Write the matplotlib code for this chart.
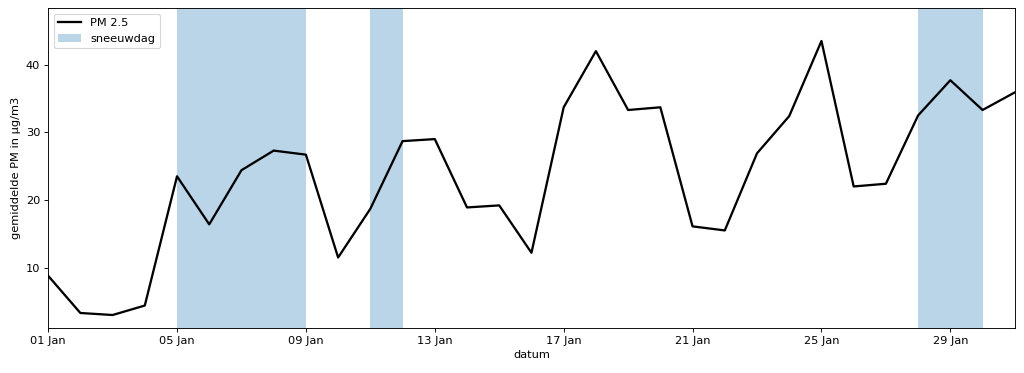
import matplotlib
matplotlib.use('Agg')
import matplotlib.pyplot as plt
import matplotlib.dates as mdates
import numpy as np
import pandas as pd

dagen = pd.date_range('2021-01-01', '2021-01-31', freq='D')
pm25 = [8.8, 3.3, 3.0, 4.4, 23.5, 16.4, 24.4, 27.3, 26.7, 11.5,
        18.7, 28.7, 29.0, 18.9, 19.2, 12.2, 33.7, 42.0, 33.3, 33.7,
        16.1, 15.5, 26.9, 32.4, 43.5, 22.0, 22.4, 32.5, 37.7, 33.3, 35.9]
sneeuw_start = ['2021-01-05', '2021-01-11', '2021-01-28']
sneeuw_eind = ['2021-01-09', '2021-01-12', '2021-01-30']

# origineel groter getekend en verkleind -> lagere dpi
DPI = 82
fig, ax = plt.subplots(figsize=(1024 / DPI, 373 / DPI), dpi=DPI)
fig.subplots_adjust(left=0.047, right=0.991, top=0.979, bottom=0.121)

ax.plot(dagen, pm25, color='black', lw=2, label='PM 2.5')
for i, (s, e) in enumerate(zip(sneeuw_start, sneeuw_eind)):
    ax.axvspan(pd.Timestamp(s), pd.Timestamp(e), color='tab:blue', alpha=0.3, lw=0,
               label='sneeuwdag' if i == 0 else None)

ax.set_xlim(dagen[0], dagen[-1])
ax.set_ylim(1.1, 48.4)
ax.xaxis.set_major_locator(mdates.DayLocator(bymonthday=[1, 5, 9, 13, 17, 21, 25, 29]))
ax.xaxis.set_major_formatter(mdates.DateFormatter('%d %b'))
ax.set_yticks([10, 20, 30, 40])
ax.set_xlabel('datum')
ax.set_ylabel('gemiddelde PM in µg/m3')
ax.legend(loc='upper left')

fig.savefig('out.png', dpi=DPI)
